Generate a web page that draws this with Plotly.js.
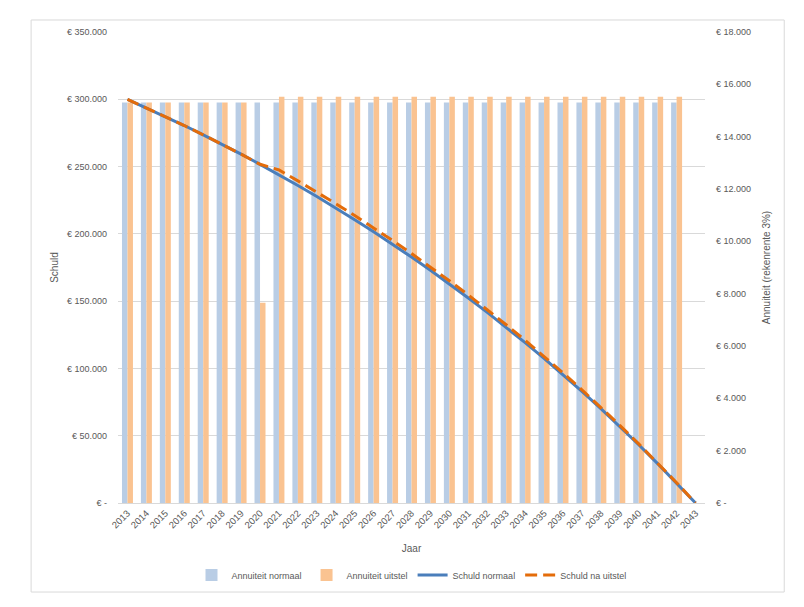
<!DOCTYPE html>
<html>
<head>
<meta charset="utf-8">
<script src="https://cdn.plot.ly/plotly-3.0.1.min.js"></script>
<style>
  body { margin: 0; background: #fff; }
  #chart { width: 804px; height: 607px; }
</style>
</head>
<body>
<div id="chart"></div>
<script>
// categories (years)
var jaren = ["2013", "2014", "2015", "2016", "2017", "2018", "2019", "2020", "2021", "2022",
  "2023", "2024", "2025", "2026", "2027", "2028", "2029", "2030", "2031", "2032",
  "2033", "2034", "2035", "2036", "2037", "2038", "2039", "2040", "2041", "2042", "2043"];

// yearly payments (right axis)
var annuiteitNormaal = [15306, 15306, 15306, 15306, 15306, 15306, 15306, 15306, 15306, 15306,
  15306, 15306, 15306, 15306, 15306, 15306, 15306, 15306, 15306, 15306,
  15306, 15306, 15306, 15306, 15306, 15306, 15306, 15306, 15306, 15306, null];
var annuiteitUitstel = [15306, 15306, 15306, 15306, 15306, 15306, 15306, 7650, 15530, 15530,
  15530, 15530, 15530, 15530, 15530, 15530, 15530, 15530, 15530, 15530,
  15530, 15530, 15530, 15530, 15530, 15530, 15530, 15530, 15530, 15530, null];

// remaining debt (left axis)
var schuldNormaal = [300000, 293694, 287199, 280509, 273618, 266521, 259211, 251681, 243925, 235937,
  227709, 219234, 210505, 201514, 192253, 182715, 172890, 162771, 152348, 141612,
  130554, 119165, 107434, 95351, 82906, 70087, 56884, 43285, 29278, 14850, 0];
var schuldUitstel = [300000, 293694, 287199, 280509, 273618, 266521, 259211, 251681, 247500, 239395,
  231047, 222448, 213591, 204469, 195073, 185395, 175427, 165160, 154585, 143693,
  132474, 120918, 109016, 96756, 84129, 71123, 57727, 43929, 29717, 15079, 0];

// tick labels
var schuldTicks = [0, 50000, 100000, 150000, 200000, 250000, 300000, 350000];
var schuldLabels = ["€ -", "€ 50.000", "€ 100.000", "€ 150.000", "€ 200.000", "€ 250.000", "€ 300.000", "€ 350.000"];
var annTicks = [0, 2000, 4000, 6000, 8000, 10000, 12000, 14000, 16000, 18000];
var annLabels = ["€ -", "€ 2.000", "€ 4.000", "€ 6.000", "€ 8.000", "€ 10.000", "€ 12.000", "€ 14.000", "€ 16.000", "€ 18.000"];

var textColor = "#595959";

var data = [
  {
    type: "bar", name: "Annuiteit normaal", x: jaren, y: annuiteitNormaal,
    xaxis: "x", yaxis: "y", marker: { color: "#b9cde5" }
  },
  {
    type: "bar", name: "Annuiteit uitstel", x: jaren, y: annuiteitUitstel,
    xaxis: "x", yaxis: "y", marker: { color: "#fac391" }
  },
  {
    type: "scatter", mode: "lines", name: "Schuld normaal", x: jaren, y: schuldNormaal,
    xaxis: "x", yaxis: "y2", line: { color: "#4a7ebb", width: 3 }
  },
  {
    type: "scatter", mode: "lines", name: "Schuld na uitstel", x: jaren, y: schuldUitstel,
    xaxis: "x", yaxis: "y2", line: { color: "#e46c0a", width: 3, dash: "12px,6px" }
  }
];

var layout = {
  width: 804,
  height: 607,
  margin: { l: 118, r: 99, t: 32, b: 104 },
  paper_bgcolor: "#ffffff",
  plot_bgcolor: "#ffffff",
  font: { family: "Liberation Sans, Arial, sans-serif", size: 9, color: textColor },
  barmode: "group",
  bargap: 0.42,
  bargroupgap: 0,
  showlegend: true,
  legend: {
    orientation: "h", x: 0.5, xanchor: "center", y: -0.153, yanchor: "middle",
    font: { size: 9, color: textColor }, traceorder: "normal"
  },
  xaxis: {
    type: "category",
    tickangle: -45,
    showline: true, linecolor: "#d9d9d9", linewidth: 1,
    showgrid: false, ticks: "",
    tickfont: { size: 9.5, color: textColor },
    title: { text: "Jaar", font: { size: 10, color: textColor }, standoff: 15 }
  },
  yaxis: {
    side: "right",
    range: [0, 18000],
    tickvals: annTicks, ticktext: annLabels,
    showgrid: false, zeroline: false, ticks: "",
    ticklabelstandoff: 10,
    tickfont: { size: 9, color: textColor },
    title: { text: "Annuiteit (rekenrente 3%)", font: { size: 10, color: textColor }, standoff: 12 }
  },
  yaxis2: {
    overlaying: "y",
    side: "left",
    range: [0, 350000],
    tickvals: schuldTicks, ticktext: schuldLabels,
    showgrid: true, gridcolor: "#d9d9d9", gridwidth: 1,
    zeroline: false, ticks: "",
    ticklabelstandoff: 10,
    tickfont: { size: 9, color: textColor },
    title: { text: "Schuld", font: { size: 10, color: textColor }, standoff: 6 }
  },
  shapes: [
    {
      // chart area border
      type: "rect", xref: "paper", yref: "paper",
      x0: -0.148, x1: 1.135, y0: -0.189, y1: 1.0255,
      line: { color: "#d9d9d9", width: 1 }
    }
  ]
};

Plotly.newPlot("chart", data, layout, { displayModeBar: false, staticPlot: true });
</script>
</body>
</html>
